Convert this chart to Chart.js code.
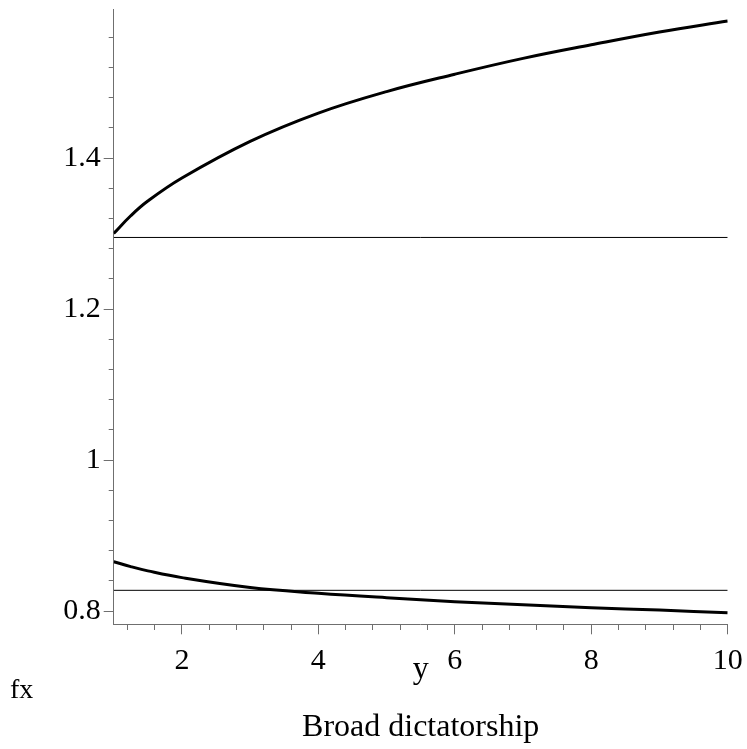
<!DOCTYPE html>
<html>
<head>
<meta charset="utf-8">
<script src="https://cdn.jsdelivr.net/npm/chart.js@4.4.1/dist/chart.umd.min.js"></script>
<style>
  html, body { margin: 0; padding: 0; background: #ffffff; }
  #wrap { width: 747px; height: 749px; }
</style>
</head>
<body>
<div id="wrap"><canvas id="c" width="747" height="749"></canvas></div>
<script>
// ---- data ----
const xValues     = [1, 1.25, 1.5, 2, 3, 4, 5, 6, 7, 8, 9, 10];
const upperCurve  = [1.300, 1.3235, 1.343, 1.3735, 1.422, 1.4595, 1.488, 1.511, 1.532, 1.550, 1.567, 1.5815];
const lowerCurve  = [0.8653, 0.8588, 0.8532, 0.8442, 0.8312, 0.8236, 0.8176, 0.8124, 0.8083, 0.8044, 0.8012, 0.7978];
const upperLevel  = 1.2948;
const lowerLevel  = 0.8274;
const xRange      = [1, 10];
const yRange      = [0.7824, 1.5974];
const xLabelTicks = [2, 4, 6, 8, 10];
const yLabelTicks = [0.8, 1, 1.2, 1.4];
const xAxisTitle  = 'y';
const yAxisTitle  = 'fx';
const chartTitle  = 'Broad dictatorship';

const toPts = (ys) => xValues.map((x, i) => ({x: x, y: ys[i]}));
const levelPts = (v) => [{x: xRange[0], y: v}, {x: xRange[1], y: v}];
const isLabelled = (v, list) => list.some(t => Math.abs(t - v) < 1e-6);

const AXIS = '#6f6f6f';
const FONT = "'Liberation Serif', 'Times New Roman', serif";

new Chart(document.getElementById('c'), {
  type: 'line',
  data: {
    datasets: [
      { data: toPts(upperCurve), borderColor: '#000', borderWidth: 3, pointRadius: 0, tension: 0.4, fill: false },
      { data: levelPts(upperLevel), borderColor: '#000', borderWidth: 1, pointRadius: 0, tension: 0, fill: false },
      { data: toPts(lowerCurve), borderColor: '#000', borderWidth: 3, pointRadius: 0, tension: 0.4, fill: false },
      { data: levelPts(lowerLevel), borderColor: '#000', borderWidth: 1, pointRadius: 0, tension: 0, fill: false }
    ]
  },
  options: {
    responsive: false,
    animation: false,
    devicePixelRatio: 1,
    layout: { padding: { top: 9, right: 19.3, left: 10, bottom: 0 } },
    plugins: {
      legend: { display: false },
      tooltip: { enabled: false },
      subtitle: {
        display: true, text: yAxisTitle, position: 'bottom', align: 'start', fullSize: true,
        color: '#000', font: { family: FONT, size: 28, weight: 'normal', lineHeight: 1.2 },
        padding: { top: -0.6, bottom: 0 }
      },
      title: {
        display: true, text: chartTitle, position: 'bottom', align: 'center', fullSize: false,
        color: '#000', font: { family: FONT, size: 32, weight: 'normal', lineHeight: 1.2 },
        padding: { top: 0.7, bottom: 2.6 }
      }
    },
    scales: {
      x: {
        type: 'linear', position: 'bottom', min: xRange[0], max: xRange[1],
        border: { display: true, color: AXIS, width: 1 },
        grid: {
          display: true, drawOnChartArea: false, drawTicks: true, tickLength: 10,
          tickColor: AXIS, tickWidth: 1,
          tickBorderDash: (ctx) => isLabelled(ctx.tick ? ctx.tick.value : 0, xLabelTicks) ? [] : [5, 20]
        },
        ticks: {
          stepSize: 0.4, includeBounds: false, autoSkip: false, maxRotation: 0, padding: 8.5,
          color: '#000', font: { family: FONT, size: 30, lineHeight: 1.2 },
          callback: (v) => isLabelled(v, xLabelTicks) ? String(Math.round(v)) : ''
        },
        title: {
          display: true, text: xAxisTitle, color: '#000',
          font: { family: FONT, size: 32, lineHeight: 1.2 },
          padding: { top: 0, bottom: -14.1 }
        },
        afterFit: (s) => { s.height = 50; s.paddingLeft = 0; s.paddingRight = 0; }
      },
      y: {
        type: 'linear', position: 'left', min: yRange[0], max: yRange[1],
        border: { display: true, color: AXIS, width: 1 },
        grid: {
          display: true, drawOnChartArea: false, drawTicks: true, tickLength: 10,
          tickColor: AXIS, tickWidth: 1,
          tickBorderDash: (ctx) => isLabelled(ctx.tick ? ctx.tick.value : 0, yLabelTicks) ? [] : [5, 5],
          tickBorderDashOffset: (ctx) => isLabelled(ctx.tick ? ctx.tick.value : 0, yLabelTicks) ? 0 : 5
        },
        ticks: {
          stepSize: 0.04, includeBounds: false, autoSkip: false, padding: 3,
          color: '#000', font: { family: FONT, size: 30, lineHeight: 1.2 },
          callback: (v) => isLabelled(v, yLabelTicks) ? String(Math.round(v * 10) / 10) : ''
        },
        afterFit: (s) => { s.width = 103.7; s.paddingTop = 0; s.paddingBottom = 0; }
      }
    }
  }
});
</script>
</body>
</html>
